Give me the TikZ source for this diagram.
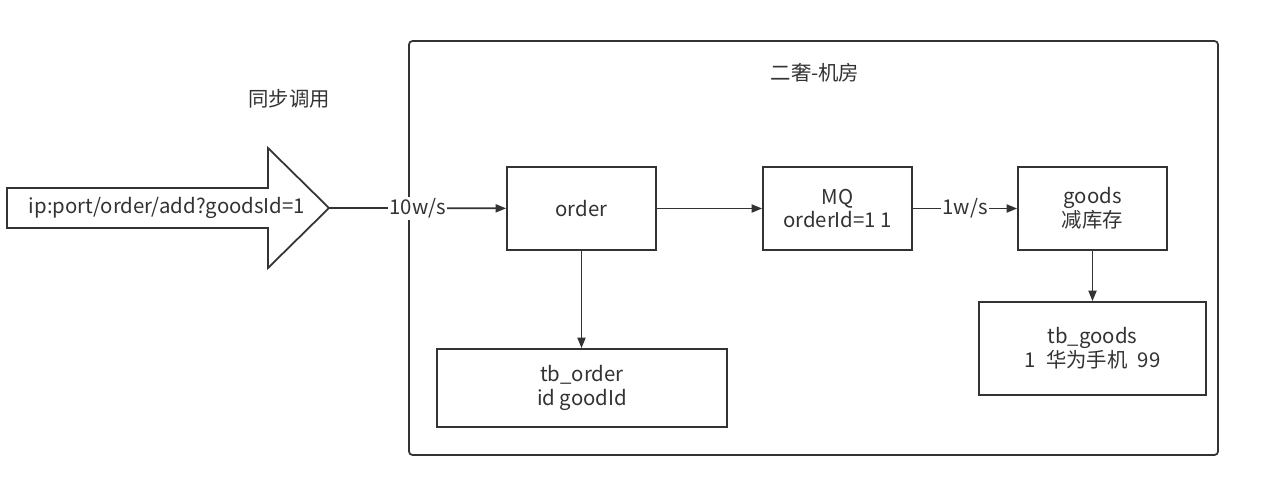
\documentclass[tikz,border=0pt]{standalone}
\usepackage{fontspec}
\setmainfont{Noto Sans CJK SC}
\usetikzlibrary{arrows.meta}
\usetikzlibrary{positioning}
\definecolor{linegray}{HTML}{333333}

\begin{document}
\begin{tikzpicture}
  [
    x=0.02cm, y=-0.02cm,
    >={Triangle[length=6pt, width=4.6pt]},
    every node/.style = {text=linegray, font=\fontsize{11.6}{13.6}\selectfont},
    box/.style  = {draw=linegray, line width=1pt, fill=white, align=center,
                   minimum width=2.98cm, minimum height=1.66cm, inner sep=0pt},
    flow/.style = {draw=linegray, line width=1pt, ->},
    rate/.style = {fill=white, inner sep=1pt},
  ]

  \useasboundingbox (0,0) rectangle (1271,480);

  % machine room frame
  \draw[linegray, line width=1pt, rounded corners=2pt] (409,41) rectangle (1218,455);
  \node (room) at (815,73) {二奢-机房};
  \node (sync) at (289,99) {同步调用};

  % request arrow
  \draw[linegray, line width=1pt]
    (7,188) -- (268,188) -- (268,148) -- (329,208) -- (268,268) -- (268,228) -- (7,228) -- cycle;
  \node (req) at (167,208) {ip:port/order/add?goodsId=1};
  \coordinate (tip) at (329,208);

  % services
  \node (order) at (581.5,208.5) [box] {order};
  \node (mq)    at (837.5,208.5) [box] {MQ\\orderId=1 1};
  \node (goods) at (1092.5,208.5) [box] {goods\\减库存};

  % tables
  \node (tborder) at (582,388) [box, minimum width=5.8cm, minimum height=1.56cm] {tb\_order\\id goodId};
  \node (tbgoods) at (1092.5,348.5) [box, minimum width=4.54cm, minimum height=1.86cm] {tb\_goods\\1\enspace 华为手机\enspace 99};

  % connectors
  \draw[flow] (tip) -- node[rate] {10w/s} (order);
  \draw[flow] (order) -- (mq);
  \draw[flow] (mq) -- node[rate] {1w/s} (goods);
  \draw[flow] (order.south) -- (order.south |- tborder.north);
  \draw[flow] (goods.south) -- (goods.south |- tbgoods.north);

\end{tikzpicture}
\end{document}
